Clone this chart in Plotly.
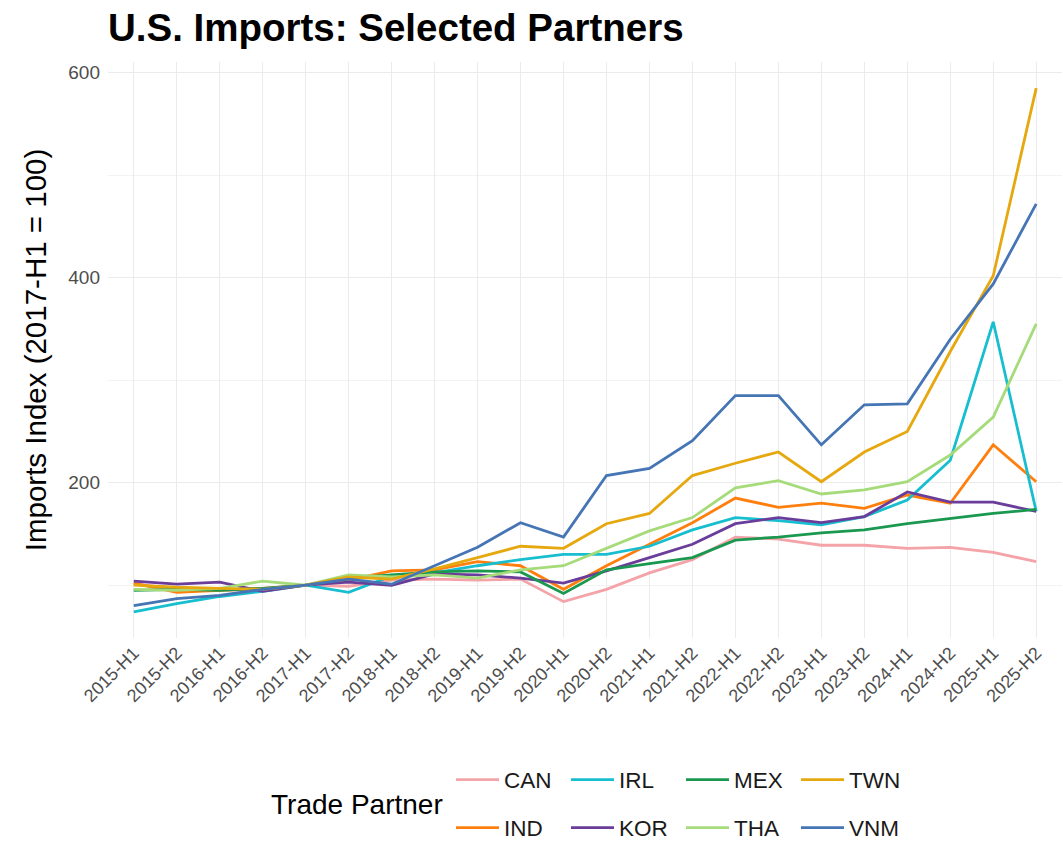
import plotly.graph_objects as go

periods = [f"{y}-H{h}" for y in range(2015, 2026) for h in (1, 2)]

partners = ["CAN", "IND", "IRL", "KOR", "MEX", "THA", "TWN", "VNM"]

can = [101, 97, 95, 96, 100, 99, 105, 106, 105, 106, 84, 96, 112, 125, 147, 145, 139, 139, 136, 137, 132, 123]
ind = [102, 93, 95, 97, 100, 105, 114, 115, 123, 119, 96, 119, 140, 161, 185, 176, 180, 175, 188, 180, 237, 201]
irl = [74, 82, 89, 94, 100, 93, 109, 112, 119, 125, 130, 130, 138, 154, 166, 163, 159, 167, 183, 222, 357, 172]
kor = [104, 101, 103, 94, 100, 103, 100, 111, 110, 107, 102, 114, 127, 140, 160, 166, 161, 167, 191, 181, 181, 172]
mex = [95, 96, 95, 97, 100, 107, 110, 113, 114, 113, 92, 115, 121, 127, 144, 147, 151, 154, 160, 165, 170, 174]
tha = [96, 95, 97, 104, 100, 110, 108, 110, 107, 115, 119, 136, 153, 166, 195, 202, 189, 193, 201, 227, 264, 355]
twn = [100, 98, 97, 96, 100, 108, 106, 116, 127, 138, 136, 160, 170, 207, 219, 230, 201, 230, 250, 328, 402, 585]
vnm = [80, 87, 90, 96, 100, 106, 101, 119, 137, 161, 147, 207, 214, 241, 285, 285, 237, 276, 277, 340, 394, 472]

series = {"CAN": can, "IND": ind, "IRL": irl, "KOR": kor, "MEX": mex, "THA": tha, "TWN": twn, "VNM": vnm}

colors = {
    "CAN": "#F4A3A8",
    "IND": "#FF7F0E",
    "IRL": "#17BECF",
    "KOR": "#6A3D9A",
    "MEX": "#1A9850",
    "THA": "#A6DB7A",
    "TWN": "#E6A80F",
    "VNM": "#4575B4",
}

# ggplot fills the legend column-wise: top row / bottom row
top_row = ["CAN", "IRL", "MEX", "TWN"]

FONT = "Liberation Sans, Arial, sans-serif"
PLOT_LEFT, PLOT_RIGHT = 108, 1062
PLOT_TOP, PLOT_BOTTOM = 62, 638


def paper_x(px):
    return (px - PLOT_LEFT) / (PLOT_RIGHT - PLOT_LEFT)


def paper_y(px):
    return (PLOT_BOTTOM - px) / (PLOT_BOTTOM - PLOT_TOP)


fig = go.Figure()
for name in partners:
    fig.add_trace(
        go.Scatter(
            x=periods,
            y=series[name],
            name=name,
            mode="lines",
            line={"color": colors[name], "width": 2.8},
            legend="legend" if name in top_row else "legend2",
        )
    )

legend_common = dict(
    orientation="h",
    xref="paper",
    yref="container",
    xanchor="left",
    yanchor="middle",
    font={"size": 22.5, "color": "#1A1A1A", "family": FONT},
    bgcolor="rgba(0,0,0,0)",
    itemwidth=43,
    entrywidth=57,
    traceorder="normal",
)

fig.update_layout(
    width=1063,
    height=841,
    margin={"l": PLOT_LEFT, "r": 1063 - PLOT_RIGHT, "t": PLOT_TOP, "b": 841 - PLOT_BOTTOM},
    paper_bgcolor="#ffffff",
    plot_bgcolor="#ffffff",
    font={"family": FONT},
    title={
        "text": "<b>U.S. Imports: Selected Partners</b>",
        "x": 0,
        "xref": "paper",
        "xanchor": "left",
        "y": 1 - 28 / 841,
        "yanchor": "middle",
        "font": {"size": 38.5, "color": "#000000", "family": FONT},
    },
    xaxis={
        "range": [-0.6, len(periods) - 0.4],
        "tickangle": -45,
        "showgrid": True,
        "gridcolor": "#EBEBEB",
        "gridwidth": 1.3,
        "zeroline": False,
        "showline": False,
        "ticks": "",
        "tickfont": {"size": 18, "color": "#4D4D4D"},
    },
    yaxis={
        "range": [48.5, 610.5],
        "tickvals": [200, 400, 600],
        "showgrid": True,
        "gridcolor": "#EBEBEB",
        "gridwidth": 1.3,
        "minor": {"dtick": 100, "tick0": 0, "showgrid": True, "gridcolor": "#F3F3F3", "gridwidth": 0.8},
        "zeroline": False,
        "showline": False,
        "ticks": "",
        "ticklabelstandoff": 7,
        "tickfont": {"size": 19, "color": "#4D4D4D"},
        "title": {"text": "Imports Index (2017-H1 = 100)", "font": {"size": 29.5, "color": "#000000"}, "standoff": 12},
    },
    legend=dict(legend_common, x=paper_x(451), y=1 - 780 / 841),
    legend2=dict(legend_common, x=paper_x(451), y=1 - 828 / 841),
    showlegend=True,
)

fig.add_annotation(
    text="Trade Partner",
    xref="paper",
    yref="paper",
    x=paper_x(269),
    y=paper_y(804),
    xanchor="left",
    yanchor="middle",
    showarrow=False,
    font={"size": 28, "color": "#000000", "family": FONT},
)

# the page body has a default 8px margin; drop it so the figure fills the window
fig.write_html(
    "out.html",
    config={"displayModeBar": False},
    post_script="document.body.style.margin='0';",
)
